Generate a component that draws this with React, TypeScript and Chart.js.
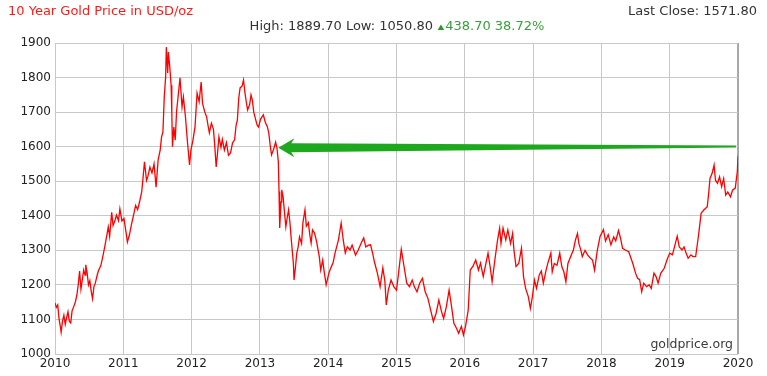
import React, { useEffect, useRef } from "react";
import { Chart, registerables } from "chart.js";

Chart.register(...registerables);

const titleText = "10 Year Gold Price in USD/oz";
const lastCloseText = "Last Close: 1571.80";
const highLowText = "High: 1889.70 Low: 1050.80 ";
const changeText = "438.70 38.72%";
const watermarkText = "goldprice.org";

const yearTicks = [2010, 2011, 2012, 2013, 2014, 2015, 2016, 2017, 2018, 2019, 2020];
const priceTicks = [1000, 1100, 1200, 1300, 1400, 1500, 1600, 1700, 1800, 1900];

// arrow annotation in data units: tail (right) and tip (left)
const arrowTail = [2019.97, 1600.5];
const arrowTip = [2013.27, 1597];

const dates = [
  2010.00, 2010.02, 2010.04, 2010.06, 2010.08, 2010.09, 2010.11, 2010.13, 2010.15, 2010.17,
  2010.19, 2010.21, 2010.23, 2010.25, 2010.28, 2010.30, 2010.32, 2010.34, 2010.36, 2010.38,
  2010.40, 2010.42, 2010.44, 2010.45, 2010.47, 2010.49, 2010.51, 2010.53, 2010.55, 2010.57,
  2010.59, 2010.62, 2010.64, 2010.67, 2010.70, 2010.73, 2010.76, 2010.78, 2010.80, 2010.83,
  2010.85, 2010.88, 2010.90, 2010.93, 2010.95, 2010.98,
  2011.01, 2011.04, 2011.06, 2011.09, 2011.12, 2011.15, 2011.18, 2011.21, 2011.24, 2011.27,
  2011.29, 2011.31, 2011.34, 2011.36, 2011.39, 2011.42, 2011.45, 2011.48, 2011.51, 2011.54,
  2011.56, 2011.58, 2011.60, 2011.62, 2011.63, 2011.65, 2011.66, 2011.68, 2011.70, 2011.71,
  2011.72, 2011.74, 2011.76, 2011.78, 2011.80, 2011.83, 2011.86, 2011.88, 2011.91, 2011.94,
  2011.97, 2011.99,
  2012.02, 2012.05, 2012.08, 2012.11, 2012.14, 2012.16, 2012.19, 2012.22, 2012.24, 2012.26,
  2012.29, 2012.32, 2012.34, 2012.36, 2012.38, 2012.40, 2012.43, 2012.45, 2012.48, 2012.51,
  2012.54, 2012.57, 2012.60, 2012.63, 2012.65, 2012.67, 2012.69, 2012.71, 2012.74, 2012.76,
  2012.78, 2012.80, 2012.82, 2012.85, 2012.87, 2012.89, 2012.91, 2012.94, 2012.96, 2012.98,
  2013.01, 2013.05, 2013.08, 2013.11, 2013.13, 2013.15, 2013.17, 2013.20, 2013.23, 2013.25,
  2013.27, 2013.28, 2013.29, 2013.31, 2013.32, 2013.34, 2013.36, 2013.38, 2013.40, 2013.42,
  2013.44, 2013.46, 2013.49, 2013.50, 2013.52, 2013.54, 2013.56, 2013.58, 2013.61, 2013.63,
  2013.66, 2013.68, 2013.71, 2013.73, 2013.75, 2013.77, 2013.80, 2013.83, 2013.87, 2013.89,
  2013.92, 2013.94, 2013.97,
  2014.01, 2014.04, 2014.07, 2014.10, 2014.15, 2014.19, 2014.22, 2014.25, 2014.28, 2014.32,
  2014.35, 2014.40, 2014.44, 2014.49, 2014.52, 2014.55, 2014.59, 2014.62, 2014.65, 2014.68,
  2014.72, 2014.76, 2014.80, 2014.83, 2014.85, 2014.88, 2014.92, 2014.96,
  2015.00, 2015.03, 2015.07, 2015.11, 2015.15, 2015.19, 2015.23, 2015.26, 2015.30, 2015.34,
  2015.38, 2015.42, 2015.46, 2015.50, 2015.54, 2015.58, 2015.62, 2015.66, 2015.69, 2015.73,
  2015.77, 2015.80, 2015.84, 2015.88, 2015.91, 2015.95, 2015.98,
  2016.01, 2016.05, 2016.08, 2016.12, 2016.16, 2016.20, 2016.23, 2016.27, 2016.31, 2016.34,
  2016.37, 2016.40, 2016.44, 2016.48, 2016.51, 2016.53, 2016.56, 2016.60, 2016.63, 2016.67,
  2016.70, 2016.72, 2016.75, 2016.79, 2016.83, 2016.86, 2016.89, 2016.93, 2016.96, 2016.99,
  2017.02, 2017.05, 2017.09, 2017.12, 2017.15, 2017.19, 2017.22, 2017.26, 2017.28, 2017.31,
  2017.35, 2017.39, 2017.42, 2017.45, 2017.48, 2017.51, 2017.55, 2017.59, 2017.62, 2017.65,
  2017.67, 2017.70, 2017.72, 2017.76, 2017.80, 2017.84, 2017.87, 2017.90, 2017.94, 2017.98,
  2018.03, 2018.06, 2018.10, 2018.14, 2018.18, 2018.21, 2018.25, 2018.28, 2018.31, 2018.35,
  2018.40, 2018.46, 2018.50, 2018.53, 2018.56, 2018.59, 2018.62, 2018.66, 2018.70, 2018.73,
  2018.77, 2018.80, 2018.83, 2018.87, 2018.92, 2018.96,
  2019.00, 2019.04, 2019.07, 2019.11, 2019.14, 2019.18, 2019.21, 2019.24, 2019.27, 2019.31,
  2019.34, 2019.38, 2019.42, 2019.46, 2019.50, 2019.55, 2019.57, 2019.59, 2019.62, 2019.65,
  2019.67, 2019.70, 2019.73, 2019.76, 2019.79, 2019.82, 2019.85, 2019.89, 2019.92, 2019.96,
  2019.99, 2020.00,
];

const prices = [
  1148, 1135, 1142, 1100, 1078, 1063, 1095, 1112, 1086, 1105,
  1122, 1095, 1090, 1125, 1140, 1152, 1170, 1200, 1240, 1188,
  1215, 1243, 1228, 1258, 1236, 1200, 1212, 1182, 1160, 1195,
  1205, 1230, 1243, 1255, 1282, 1312, 1345, 1368, 1340, 1410,
  1372, 1388, 1402, 1386, 1420, 1385,
  1392, 1352, 1324, 1345, 1375, 1402, 1430, 1418, 1442, 1470,
  1512, 1556, 1502, 1514, 1541, 1524, 1550, 1483, 1562, 1590,
  1628, 1642, 1744, 1802, 1888, 1813, 1874, 1831, 1778, 1700,
  1600, 1657, 1619, 1702, 1740, 1799, 1715, 1744, 1686, 1612,
  1547, 1590,
  1619, 1657, 1755, 1730, 1787, 1726, 1702, 1686, 1662, 1640,
  1668, 1650, 1600, 1541, 1582, 1628, 1598, 1621, 1590, 1612,
  1575, 1582, 1611, 1620, 1660, 1677, 1740, 1770, 1776, 1793,
  1758, 1730, 1706, 1722, 1750, 1734, 1700, 1677, 1662, 1657,
  1680, 1692, 1670, 1657, 1640, 1605, 1576, 1592, 1613, 1596,
  1556, 1470, 1365, 1440, 1475, 1455, 1410, 1368, 1395, 1417,
  1380, 1330, 1263, 1214, 1250, 1292, 1310, 1339, 1320, 1380,
  1417, 1370, 1380, 1345, 1321, 1359, 1350, 1325, 1281, 1243,
  1272, 1240, 1200,
  1234, 1250, 1263, 1292, 1330, 1379, 1330, 1292, 1310, 1301,
  1315, 1286, 1301, 1324, 1336, 1310, 1315, 1316, 1292, 1264,
  1234, 1195, 1249, 1210, 1142, 1185, 1214, 1195,
  1185, 1234, 1303, 1254, 1205, 1195, 1214, 1195, 1180, 1205,
  1219, 1180, 1161, 1127, 1094, 1118, 1156, 1122, 1103, 1137,
  1185, 1146, 1089, 1074, 1060, 1080, 1055,
  1079, 1127, 1243, 1254, 1272, 1243, 1263, 1224, 1263, 1292,
  1254, 1209, 1272, 1330, 1364, 1320, 1364, 1330, 1359, 1320,
  1349, 1300, 1253, 1262, 1306, 1224, 1190, 1166, 1132, 1166,
  1214, 1190, 1229, 1240, 1205, 1243, 1266, 1292, 1238, 1262,
  1257, 1292, 1253, 1238, 1209, 1262, 1282, 1301, 1330, 1349,
  1320, 1300, 1282, 1300, 1286, 1277, 1272, 1243, 1300, 1340,
  1360, 1327, 1345, 1316, 1339, 1327, 1357, 1335, 1306, 1301,
  1296, 1262, 1234, 1219, 1215, 1180, 1205, 1195, 1200, 1190,
  1234, 1224, 1205, 1234, 1248, 1272,
  1292, 1287, 1310, 1341, 1310, 1301, 1310, 1292, 1277, 1287,
  1282, 1282, 1340, 1407, 1417, 1426, 1464, 1508, 1522, 1547,
  1503, 1494, 1513, 1484, 1508, 1460, 1469, 1455, 1474, 1480,
  1528, 1572,
];

const FONT = '"DejaVu Sans", Verdana, sans-serif';

const overlayPlugin = {
  id: "overlay",
  afterDatasetsDraw(chart: any) {
    const ctx = chart.ctx;
    const xs = chart.scales.x;
    const ys = chart.scales.y;
    const area = chart.chartArea;

    // watermark
    ctx.save();
    ctx.font = "12.5px " + FONT;
    ctx.fillStyle = "#3a3a3a";
    ctx.textAlign = "right";
    ctx.textBaseline = "middle";
    ctx.fillText(watermarkText, area.right - 5, area.bottom - 9);
    ctx.restore();

    // arrow
    const tx = xs.getPixelForValue(arrowTail[0]);
    const ty = ys.getPixelForValue(arrowTail[1]);
    const hx = xs.getPixelForValue(arrowTip[0]);
    const hy = ys.getPixelForValue(arrowTip[1]);
    ctx.save();
    ctx.fillStyle = "#1ea81e";
    ctx.beginPath();
    ctx.moveTo(hx, hy);
    ctx.lineTo(hx + 16, hy - 9.5);
    ctx.lineTo(hx + 13, hy - 4.5);
    ctx.lineTo(tx, ty - 0.9);
    ctx.lineTo(tx, ty + 0.9);
    ctx.lineTo(hx + 13, hy + 4.5);
    ctx.lineTo(hx + 16, hy + 9.5);
    ctx.closePath();
    ctx.fill();
    ctx.restore();

    // header
    ctx.save();
    ctx.font = "13px " + FONT;
    ctx.textBaseline = "middle";
    ctx.textAlign = "left";
    ctx.fillStyle = "#ff1a1a";
    ctx.fillText(titleText, 8, 12);
    ctx.textAlign = "right";
    ctx.fillStyle = "#333333";
    ctx.fillText(lastCloseText, 757, 12);
    ctx.textAlign = "left";
    const hw = ctx.measureText(highLowText).width;
    const cw = ctx.measureText(changeText).width;
    const triW = 8;
    const total = hw + triW + cw;
    let sx = 397 - total / 2;
    ctx.fillStyle = "#333333";
    ctx.fillText(highLowText, sx, 27);
    sx += hw;
    ctx.fillStyle = "#2a9a2a";
    ctx.beginPath();
    ctx.moveTo(sx + 0.5, 30);
    ctx.lineTo(sx + 7, 30);
    ctx.lineTo(sx + 3.75, 24.5);
    ctx.closePath();
    ctx.fill();
    ctx.fillStyle = "#3a9e3a";
    ctx.fillText(changeText, sx + triW, 27);
    ctx.restore();
  },
};

export default function App() {
  const ref = useRef<HTMLCanvasElement | null>(null);
  useEffect(() => {
    if (!ref.current) return;
    const points = dates.map((d, i) => ({ x: d, y: prices[i] }));
    const lastYear = yearTicks[yearTicks.length - 1];
    const chart = new Chart(ref.current, {
      type: "line",
      data: {
        datasets: [
          {
            data: points,
            borderColor: "#ff0000",
            borderWidth: 1.3,
            pointRadius: 0,
            tension: 0,
            fill: false,
          },
        ],
      },
      options: {
        responsive: false,
        animation: false,
        layout: { padding: { top: 43, right: 29, left: 0, bottom: 0 } },
        plugins: { legend: { display: false }, tooltip: { enabled: false } },
        scales: {
          x: {
            type: "linear",
            min: yearTicks[0],
            max: lastYear,
            afterBuildTicks: (s: any) => {
              s.ticks = yearTicks.map((v) => ({ value: v }));
            },
            afterFit: (s: any) => {
              s.height = 22;
            },
            ticks: {
              callback: (v: any) => String(v),
              font: { family: FONT, size: 12 },
              color: "#222222",
              padding: 3,
              maxRotation: 0,
              autoSkip: false,
            },
            grid: {
              color: (c: any) => (c.tick && c.tick.value === lastYear ? "#a8a8a8" : "#c8c8c8"),
              lineWidth: (c: any) => (c.tick && c.tick.value === lastYear ? 2 : 1),
              drawTicks: false,
            },
            border: { display: false },
          },
          y: {
            min: priceTicks[0],
            max: priceTicks[priceTicks.length - 1],
            afterBuildTicks: (s: any) => {
              s.ticks = priceTicks.map((v) => ({ value: v }));
            },
            afterFit: (s: any) => {
              s.width = 55;
            },
            ticks: {
              callback: (v: any) => String(v),
              font: { family: FONT, size: 12 },
              color: "#222222",
              padding: 4,
            },
            grid: { color: "#c8c8c8", lineWidth: 1, drawTicks: false },
            border: { display: false },
          },
        },
      },
      plugins: [overlayPlugin],
    });
    return () => chart.destroy();
  }, []);
  return (
    <div style={{ position: "absolute", left: 0, top: 0, width: 767, height: 376, background: "#fff" }}>
      <canvas ref={ref} width={767} height={376} style={{ display: "block", width: 767, height: 376 }} />
    </div>
  );
}
